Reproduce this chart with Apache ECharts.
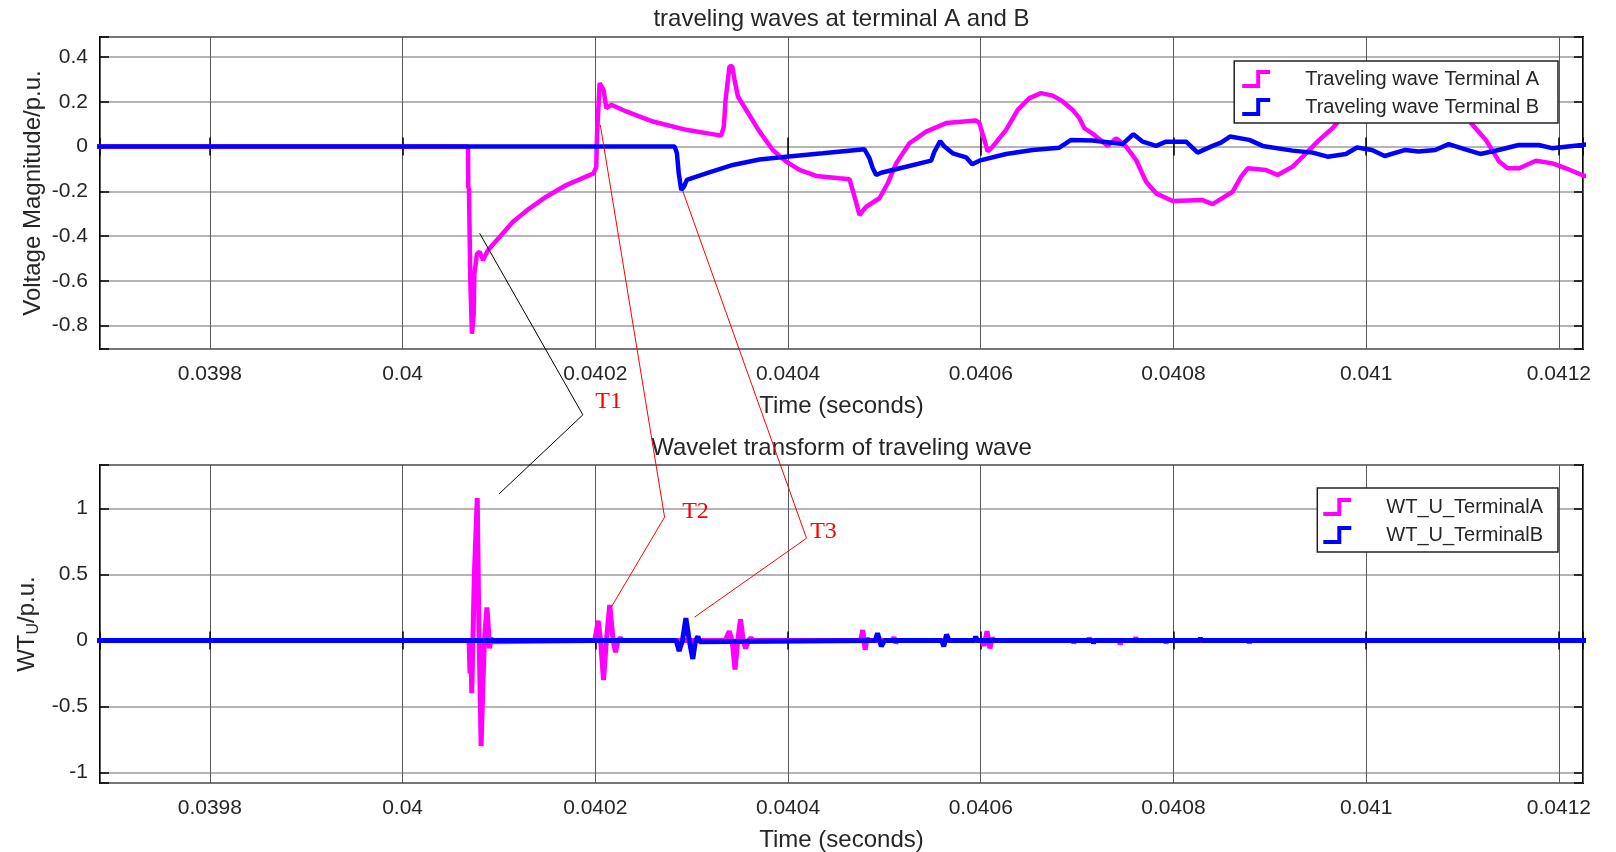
<!DOCTYPE html>
<html>
<head>
<meta charset="utf-8">
<title>traveling waves at terminal A and B</title>
<script src="https://cdn.jsdelivr.net/npm/echarts@6/dist/echarts.min.js"></script>
<style>
  html, body { margin: 0; padding: 0; background: #fff; }
  #chart { width: 1616px; height: 852px; }
</style>
</head>
<body>
<div id="chart"></div>
<script>
// time axis (seconds), shared by both plots
const xMin = 0.039686;
const xMax = 0.041225;
const xStep = 0.0002;

// upper plot: voltage travelling waves
const yTopMin = -0.905;
const yTopMax = 0.49;
const yTopStep = 0.2;

// lower plot: wavelet coefficients
const yBotMin = -1.08;
const yBotMax = 1.33;
const yBotStep = 0.5;

const nameA = 'Traveling wave Terminal A';
const nameB = 'Traveling wave Terminal B';
const nameWA = 'WT_U_TerminalA';
const nameWB = 'WT_U_TerminalB';

// Terminal A voltage
const tA = [0.03968, 0.0400679, 0.0400682, 0.0400689, 0.0400703, 0.0400720, 0.0400738, 0.0400745,
  0.0400772, 0.0400800, 0.0400834, 0.0400886, 0.0401007, 0.0401146, 0.0401318, 0.0401491, 0.0401699,
  0.0401982, 0.0402010, 0.0402017, 0.0402045, 0.0402065, 0.0402086, 0.0402114, 0.0402166, 0.0402321,
  0.0402598, 0.0402944, 0.0403307, 0.0403334, 0.0403352, 0.0403393, 0.0403421, 0.0403445, 0.0403480,
  0.0403600, 0.0403704, 0.0403842, 0.0403981, 0.0404119, 0.0404292, 0.0404534, 0.0404638, 0.0404690,
  0.0404742, 0.0404811, 0.0404949, 0.0405035, 0.0405122, 0.0405260, 0.0405433, 0.0405641, 0.0405952,
  0.0405986, 0.0406038, 0.0406072, 0.0406124, 0.0406263, 0.0406384, 0.0406505, 0.0406626, 0.0406747,
  0.0406850, 0.0406954, 0.0407024, 0.0407076, 0.0407179, 0.0407317, 0.0407404, 0.0407508, 0.0407612,
  0.0407716, 0.0407820, 0.0407991, 0.0408303, 0.0408406, 0.0408614, 0.0408701, 0.0408770, 0.0408961,
  0.0409081, 0.0409236, 0.0409375, 0.0409513, 0.0409651, 0.0409738, 0.0409850, 0.0410000, 0.0410200,
  0.0410450, 0.0410700, 0.0410950, 0.0411087, 0.0411242, 0.0411380, 0.0411467, 0.0411588, 0.0411761,
  0.0411934, 0.0412073, 0.0412239, 0.04123];
const vA = [0, 0, -0.18, -0.19, -0.60, -0.837, -0.75, -0.57,
  -0.48, -0.47, -0.508, -0.463, -0.404, -0.336, -0.276, -0.224, -0.172,
  -0.120, -0.090, 0.045, 0.284, 0.291, 0.254, 0.172, 0.187, 0.157,
  0.112, 0.075, 0.049, 0.090, 0.209, 0.359, 0.359, 0.299, 0.224,
  0.140, 0.067, -0.015, -0.067, -0.104, -0.131, -0.142, -0.146, -0.224,
  -0.306, -0.269, -0.231, -0.164, -0.075, 0.015, 0.067, 0.105, 0.117,
  0.105, 0.030, -0.022, 0, 0.075, 0.164, 0.217, 0.239, 0.228,
  0.202, 0.164, 0.127, 0.082, 0.052, 0.003, 0.037, 0, -0.060,
  -0.157, -0.209, -0.243, -0.239, -0.257, -0.202, -0.135, -0.097, -0.105,
  -0.127, -0.090, -0.030, 0.030, 0.082, 0.127, 0.200, 0.280, 0.330,
  0.340, 0.290, 0.180, 0.105, 0.030, -0.067, -0.097, -0.097, -0.063,
  -0.075, -0.097, -0.127, -0.135];

// Terminal B voltage
const tB = [0.03968, 0.0402824, 0.0402847, 0.0402866, 0.0402892, 0.0402920, 0.0402950, 0.0402996,
  0.0403151, 0.0403427, 0.0403704, 0.0403981, 0.0404360, 0.0404793, 0.0404845, 0.0404880, 0.0404915,
  0.0404967, 0.0405226, 0.0405485, 0.0405520, 0.0405579, 0.0405623, 0.0405710, 0.0405848, 0.0405911,
  0.0405986, 0.0406263, 0.0406539, 0.0406816, 0.0406938, 0.0407162, 0.0407473, 0.0407584, 0.0407681,
  0.0407820, 0.0407923, 0.0408131, 0.0408251, 0.0408406, 0.0408493, 0.0408587, 0.0408787, 0.0408925,
  0.0409236, 0.0409444, 0.0409599, 0.0409790, 0.0409904, 0.0410060, 0.0410192, 0.0410406, 0.0410544,
  0.0410717, 0.0410856, 0.0411028, 0.0411184, 0.0411375, 0.0411582, 0.0411790, 0.0411928, 0.0412238,
  0.04123];
const vB = [0, 0, -0.03, -0.12, -0.194, -0.179, -0.149, -0.142,
  -0.120, -0.082, -0.058, -0.045, -0.030, -0.012, -0.052, -0.097, -0.127,
  -0.117, -0.090, -0.063, -0.022, 0.025, 0, -0.030, -0.048, -0.079,
  -0.063, -0.033, -0.015, -0.005, 0.030, 0.027, 0.012, 0.055, 0.022,
  0.003, 0.022, 0.022, -0.027, 0.003, 0.018, 0.045, 0.030, 0.003,
  -0.018, -0.027, -0.045, -0.033, -0.004, -0.015, -0.042, -0.015, -0.022,
  -0.015, 0.011, -0.012, -0.033, -0.015, 0.007, 0.007, -0.007, 0.007,
  0.01];

// wavelet transform, terminal A
const tWA = [0.03968, 0.0400690, 0.0400700, 0.0400708, 0.0400718, 0.0400730, 0.0400745, 0.0400775,
  0.0400790, 0.0400815, 0.0400835, 0.0400850, 0.0400875, 0.0400890, 0.0400902, 0.0400918, 0.0400935,
  0.0400950,
  0.0401995, 0.0402030, 0.0402055, 0.0402085, 0.0402115, 0.0402150, 0.0402185, 0.0402210, 0.0402235,
  0.0402260, 0.0402285,
  0.0403350, 0.0403390, 0.0403420, 0.0403450, 0.0403478, 0.0403507, 0.0403535, 0.0403560, 0.0403590,
  0.0403615, 0.0403640,
  0.0404755, 0.0404775, 0.0404800, 0.0404820, 0.0404835,
  0.0405085, 0.0405100, 0.0405118, 0.0405135,
  0.0406010, 0.0406035, 0.0406065, 0.0406095, 0.0406120, 0.0406140,
  0.0406955, 0.0406966, 0.0406978, 0.0407115, 0.0407126, 0.0407138,
  0.0407437, 0.0407448, 0.0407460, 0.0407598, 0.0407609, 0.0407620,
  0.0407912, 0.0407923, 0.0407935, 0.0408465, 0.0408476, 0.0408488,
  0.0408776, 0.0408787, 0.0408799, 0.0409290, 0.0409300, 0.0409310,
  0.0410070, 0.0410080, 0.0410090, 0.0410490, 0.0410500, 0.0410510,
  0.0411290, 0.0411300, 0.0411310, 0.0411890, 0.0411900, 0.0411910,
  0.04123];
const vWA = [0, 0, -0.25, 0, -0.40, 0, 0.5, 1.08,
  0.2, -0.80, -0.3, 0, 0.25, 0.1, -0.06, 0.02, -0.01,
  0,
  0, 0.15, 0, -0.30, 0, 0.27, 0, -0.09, 0,
  0.02, 0,
  0, 0.07, 0, -0.22, 0, 0.16, 0, -0.06, 0,
  0.02, 0,
  0, 0.08, -0.07, 0.02, 0,
  0, 0.025, -0.02, 0,
  0, -0.04, 0.07, -0.06, 0.02, 0,
  0, -0.02, 0, 0, 0.02, 0,
  0, -0.03, 0, 0, 0.025, 0,
  0, -0.02, 0, 0, 0.015, 0,
  0, -0.02, 0, 0, 0.012, 0,
  0, -0.015, 0, 0, 0.012, 0,
  0, -0.012, 0, 0, 0.01, 0,
  0];

// wavelet transform, terminal B
const tWB = [0.03968, 0.0402840, 0.0402870, 0.0402905, 0.0402940, 0.0402975, 0.0403012, 0.0403040,
  0.0403065, 0.0403085, 0.0403105,
  0.0404905, 0.0404929, 0.0404968, 0.0405000,
  0.0405595, 0.0405616, 0.0405645, 0.0405670,
  0.0405935, 0.0405948, 0.0405962,
  0.0407160, 0.0407170, 0.0407182, 0.0407240, 0.0407250, 0.0407262,
  0.0408268, 0.0408279, 0.0408290, 0.0408615, 0.0408626, 0.0408638,
  0.0409410, 0.0409420, 0.0409430, 0.0410890, 0.0410900, 0.0410910,
  0.0411490, 0.0411500, 0.0411510,
  0.04123];
const vWB = [0, 0, -0.08, 0, 0.17, 0, -0.14, 0,
  0.03, -0.01, 0,
  0, 0.055, -0.045, 0,
  0, -0.045, 0.045, 0,
  0, 0.03, 0,
  0, -0.02, 0, 0, 0.015, 0,
  0, 0.02, 0, 0, -0.015, 0,
  0, 0.01, 0, 0, -0.01, 0,
  0, 0.01, 0,
  0];

// annotations T1..T3: end on upper curve, elbow, end on lower curve, label
const markers = ['T1', 'T2', 'T3'];
const markerLine = ['#000000', '#ff0000', '#ff0000'];
const markerTop = [[0.04008, -0.388], [0.0402052, 0.097], [0.0402909, -0.2]];
const markerElbow = [[0.0401871, 1.71], [0.0402719, 0.935], [0.0404192, 0.775]];
const markerBottom = [[0.0401, 1.11], [0.0402166, 0.253], [0.040303, 0.177]];
const markerLabel = [[0.0402138, 1.809], [0.040304, 0.973], [0.0404368, 0.828]];

const font = 'Liberation Sans';
const textColor = '#262626';
const magenta = '#ff00ff';
const blue = '#0000ff';
const stepIcon = 'path://M0,14L14,14L14,0L28,0L28,4L18,4L18,18L0,18Z';

const pairs = (ts, vs) => ts.map((t, i) => [t, vs[i]]);
const onStep = (v, step) => Math.abs(v / step - Math.round(v / step)) < 1e-6;

function xAxisOpt(gridIndex, withLabels) {
  return {
    type: 'value', gridIndex, min: xMin, max: xMax,
    minInterval: xStep, maxInterval: xStep,
    position: withLabels ? 'bottom' : 'top',
    name: withLabels ? 'Time (seconds)' : '',
    nameLocation: 'middle', nameGap: 45, nameMoveOverlap: false,
    nameTextStyle: { fontFamily: font, fontSize: 24, color: textColor },
    axisLine: { show: false },
    axisTick: { show: true, inside: true, length: 9, lineStyle: { color: '#000', width: 1.5 } },
    axisLabel: {
      show: withLabels, margin: 15, fontFamily: font, fontSize: 21, color: textColor,
      formatter: v => onStep(v, xStep) ? String(+v.toFixed(4)) : ''
    },
    splitLine: { show: withLabels, lineStyle: { color: '#5a5a5a', width: 1 } }
  };
}

function yAxisOpt(gridIndex, min, max, step, digits, name, gap, withLabels) {
  return {
    type: 'value', gridIndex, min, max,
    minInterval: step, maxInterval: step,
    position: withLabels ? 'left' : 'right',
    name: withLabels ? name : '',
    nameLocation: 'middle', nameGap: gap, nameMoveOverlap: false,
    nameTextStyle: {
      fontFamily: font, fontSize: 24, color: textColor,
      rich: {
        n: { fontFamily: font, fontSize: 24, color: textColor, lineHeight: 30 },
        s: { fontFamily: font, fontSize: 16, color: textColor, verticalAlign: 'bottom', lineHeight: 30 }
      }
    },
    axisLine: { show: false },
    axisTick: { show: true, inside: true, length: 9, lineStyle: { color: '#000', width: 1.5 } },
    axisLabel: {
      show: withLabels, margin: 12, fontFamily: font, fontSize: 21, color: textColor,
      formatter: v => onStep(v, step) ? String(+v.toFixed(digits)) : ''
    },
    splitLine: { show: withLabels, lineStyle: { color: '#9c9c9c', width: 1.5 } }
  };
}

function legendOpt(names, topPx, padding) {
  return {
    data: names, orient: 'vertical', right: 58, top: topPx,
    icon: stepIcon, itemWidth: 28, itemHeight: 18, itemGap: 8,
    padding, backgroundColor: '#fff', borderColor: '#222', borderWidth: 1.5, borderRadius: 0,
    selectedMode: false,
    itemStyle: { borderWidth: 0 },
    textStyle: { fontFamily: font, fontSize: 20, color: textColor, padding: [0, 0, 0, 30] }
  };
}

function lineSeries(name, data, color, xi, yi, width) {
  return {
    name, type: 'line', data, xAxisIndex: xi, yAxisIndex: yi,
    showSymbol: false, symbol: 'none', clip: true,
    lineStyle: { color, width }, itemStyle: { color }
  };
}

const chart = echarts.init(document.getElementById('chart'));
chart.setOption({
  animation: false,
  backgroundColor: '#fff',
  title: [
    { text: 'traveling waves at terminal A and B', left: 841.5, top: 7, textAlign: 'center', padding: 0,
      textStyle: { fontFamily: font, fontSize: 24, fontWeight: 'normal', color: textColor } },
    { text: 'Wavelet transform of traveling wave', left: 841.5, top: 436, textAlign: 'center', padding: 0,
      textStyle: { fontFamily: font, fontSize: 24, fontWeight: 'normal', color: textColor } }
  ],
  grid: [
    { left: 100, right: 33, top: 37, height: 312, show: true, borderColor: '#000', borderWidth: 2,
      backgroundColor: '#fff', outerBoundsMode: 'none' },
    { left: 100, right: 33, top: 465, height: 318, show: true, borderColor: '#000', borderWidth: 2,
      backgroundColor: '#fff', outerBoundsMode: 'none' }
  ],
  legend: [
    legendOpt([nameA, nameB], 61, [8, 19, 6, 8]),
    legendOpt([nameWA, nameWB], 488, [9, 15, 7, 6])
  ],
  xAxis: [xAxisOpt(0, true), xAxisOpt(1, true), xAxisOpt(0, false), xAxisOpt(1, false)],
  yAxis: [
    yAxisOpt(0, yTopMin, yTopMax, yTopStep, 1, 'Voltage Magnitude/p.u.', 55, true),
    yAxisOpt(1, yBotMin, yBotMax, yBotStep, 1, '{n|WT}{s|U}{n|/p.u.}', 58, true),
    yAxisOpt(0, yTopMin, yTopMax, yTopStep, 1, '', 0, false),
    yAxisOpt(1, yBotMin, yBotMax, yBotStep, 1, '', 0, false)
  ],
  series: [
    lineSeries(nameA, pairs(tA, vA), magenta, 0, 0, 4.5),
    lineSeries(nameB, pairs(tB, vB), blue, 0, 0, 4.5),
    lineSeries(nameWA, pairs(tWA, vWA), magenta, 1, 1, 5),
    lineSeries(nameWB, pairs(tWB, vWB), blue, 1, 1, 5)
  ]
});

// leader lines and labels, placed through the axes of each plot
const upperCs = { xAxisIndex: 0, yAxisIndex: 0 };
const lowerCs = { xAxisIndex: 1, yAxisIndex: 1 };
const graphics = [];
markers.forEach((m, i) => {
  const a = chart.convertToPixel(upperCs, markerTop[i]);
  const e = chart.convertToPixel(lowerCs, markerElbow[i]);
  const b = chart.convertToPixel(lowerCs, markerBottom[i]);
  const l = chart.convertToPixel(lowerCs, markerLabel[i]);
  graphics.push({
    type: 'polyline', z: 100, silent: true,
    shape: { points: [a, e, b] },
    style: { stroke: markerLine[i], lineWidth: 1, fill: null }
  });
  graphics.push({
    type: 'text', z: 100, silent: true, x: l[0], y: l[1],
    style: { text: m, fill: '#ff0000', fontSize: 24, fontFamily: 'Liberation Serif',
      align: 'center', verticalAlign: 'middle' }
  });
});
chart.setOption({ graphic: graphics });
</script>
</body>
</html>
